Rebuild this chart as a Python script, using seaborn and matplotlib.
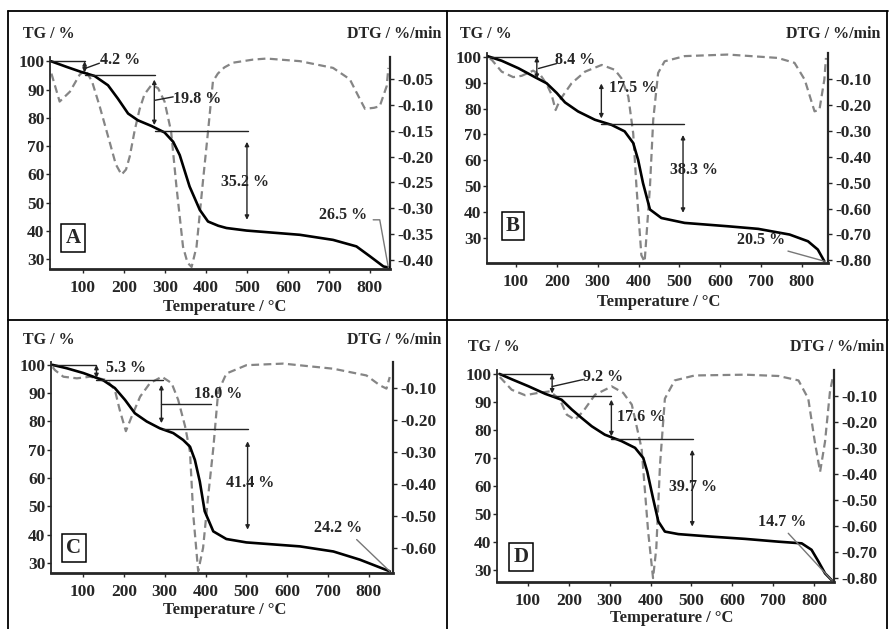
import matplotlib
matplotlib.use('Agg')
import matplotlib.pyplot as plt
import seaborn as sns
from matplotlib.ticker import FuncFormatter

# ---- Panel A ----
temp_tg_a = [22, 60, 96, 128, 161, 185, 210, 234, 267, 299, 320, 336, 360, 385, 405, 430, 450, 499, 629, 710, 767,
             800, 833, 849]
tg_a = [100.0, 98.0, 96.2, 94.8, 91.5, 86.8, 81.5, 79.1, 77.1, 74.8, 71.5, 66.8, 55.7, 47.4, 43.3, 41.8, 41.0, 40.1,
        38.6, 36.8, 34.5, 31.0, 27.4, 26.9]
temp_dtg_a = [23, 43, 68, 92, 106, 122, 141, 165, 180, 194, 205, 214, 226, 238, 250, 267, 283, 299, 315, 328, 344, 355,
              365, 377, 393, 405, 417, 429, 445, 466, 515, 548, 629, 710, 751, 776, 788, 810, 824, 841, 845]
dtg_a = [-0.040, -0.094, -0.075, -0.042, -0.033, -0.055, -0.104, -0.172, -0.215, -0.235, -0.225, -0.200, -0.150,
         -0.109, -0.080, -0.062, -0.068, -0.094, -0.152, -0.258, -0.374, -0.405, -0.413, -0.374, -0.245, -0.152,
         -0.055, -0.040, -0.028, -0.019, -0.013, -0.011, -0.016, -0.029, -0.051, -0.090, -0.108, -0.106, -0.103,
         -0.064, -0.029]
steps_a = ['4.2 %', '19.8 %', '35.2 %', '26.5 %']

# ---- Panel B ----
temp_tg_b = [30, 65, 106, 146, 175, 200, 220, 252, 293, 334, 366, 387, 399, 411, 428, 456, 513, 619, 693, 770, 815,
             839, 855]
tg_b = [100.3, 98.5, 95.6, 92.2, 89.8, 86.0, 82.4, 78.9, 75.7, 73.7, 71.2, 66.7, 60.2, 51.2, 41.0, 37.7, 35.8, 34.5,
        33.5, 31.3, 28.7, 25.5, 21.0]
temp_dtg_b = [36, 41, 65, 93, 114, 142, 160, 175, 187, 197, 208, 236, 269, 310, 342, 358, 375, 387, 395, 407, 415, 428,
              436, 448, 464, 513, 619, 741, 782, 807, 831, 843, 855, 859]
dtg_b = [-0.022, -0.027, -0.072, -0.093, -0.088, -0.068, -0.085, -0.120, -0.160, -0.220, -0.180, -0.117, -0.072,
         -0.046, -0.065, -0.097, -0.168, -0.310, -0.516, -0.780, -0.805, -0.516, -0.258, -0.077, -0.032, -0.012,
         -0.006, -0.019, -0.038, -0.103, -0.225, -0.219, -0.103, -0.019]
steps_b = ['8.4 %', '17.5 %', '38.3 %', '20.5 %']

# ---- Panel C ----
temp_tg_c = [25, 60, 101, 150, 178, 203, 227, 256, 288, 321, 345, 362, 374, 386, 398, 419, 451, 500, 631, 713, 778, 851]
tg_c = [100.0, 98.8, 97.1, 94.5, 91.8, 87.6, 82.9, 80.0, 77.6, 75.9, 73.5, 71.1, 66.4, 58.8, 48.3, 41.2, 38.5, 37.3,
        35.9, 34.1, 31.2, 27.1]
temp_dtg_c = [26, 31, 52, 85, 117, 158, 178, 190, 205, 219, 240, 264, 293, 317, 333, 350, 362, 370, 382, 394, 406, 419,
              431, 451, 500, 590, 713, 794, 827, 843, 851]
dtg_c = [-0.035, -0.044, -0.065, -0.070, -0.065, -0.075, -0.106, -0.169, -0.235, -0.190, -0.127, -0.085, -0.065,
         -0.085, -0.137, -0.220, -0.300, -0.496, -0.672, -0.600, -0.444, -0.289, -0.112, -0.055, -0.029, -0.024,
         -0.040, -0.061, -0.092, -0.102, -0.066]
steps_c = ['5.3 %', '18.0 %', '41.4 %', '24.2 %']

# ---- Panel D ----
temp_tg_d = [30, 60, 101, 142, 182, 207, 231, 256, 288, 329, 362, 382, 392, 406, 419, 435, 468, 549, 631, 713, 770,
             794, 811, 827, 843]
tg_d = [100.0, 98.1, 95.6, 92.9, 90.8, 87.3, 84.3, 81.3, 78.3, 76.0, 73.6, 70.0, 65.0, 55.6, 47.3, 43.7, 42.8, 41.9,
        41.1, 40.1, 39.5, 37.2, 33.0, 28.8, 26.4]
temp_dtg_d = [31, 60, 93, 125, 154, 178, 195, 215, 235, 264, 305, 333, 354, 378, 394, 406, 414, 423, 435, 459, 508, 631,
              713, 762, 786, 802, 815, 827, 839, 847]
dtg_d = [-0.027, -0.076, -0.097, -0.088, -0.082, -0.114, -0.172, -0.191, -0.159, -0.095, -0.063, -0.088, -0.133,
         -0.302, -0.621, -0.800, -0.685, -0.366, -0.110, -0.040, -0.021, -0.018, -0.023, -0.040, -0.110, -0.276,
         -0.391, -0.276, -0.085, -0.021]
steps_d = ['9.2 %', '17.6 %', '39.7 %', '14.7 %']

tg_ticks = list(range(30, 101, 10))
temp_ticks = list(range(100, 801, 100))

sns.set_theme(style='ticks')
plt.rcParams['font.family'] = ['Liberation Serif', 'DejaVu Serif']
plt.rcParams['font.weight'] = 'bold'
plt.rcParams['axes.labelweight'] = 'bold'

W, H = 889, 629
fig = plt.figure(figsize=(W / 100, H / 100), dpi=100)


def fx(x, y):
    return x / W, 1 - y / H


def rect(left, top, right, bottom):
    return [left / W, 1 - bottom / H, (right - left) / W, (bottom - top) / H]


def fig_line(xs, ys):
    fig.add_artist(plt.Line2D([x / W for x in xs], [1 - y / H for y in ys],
                              transform=fig.transFigure, color='black', lw=1.3))


# panel frames
fig_line([8, 888], [11, 11])
fig_line([8, 8], [11, 629])
fig_line([447, 447], [11, 629])
fig_line([8, 888], [320, 320])
fig_line([887, 887], [11, 629])

fmt = FuncFormatter(lambda v, p: f'{v:.2f}')


def vline_arrow(ax, x, y0, y1):
    ax.annotate('', xy=(x, y1), xytext=(x, y0),
                arrowprops=dict(arrowstyle='<|-|>', color='#222222', lw=1.0, mutation_scale=6,
                                shrinkA=0, shrinkB=0))


def draw_panel(r, xlim, ylim, dlim, dticks, t_tg, tg, t_dtg, dtg):
    ax = fig.add_axes(r)
    ax2 = ax.twinx()
    sns.lineplot(x=t_dtg, y=dtg, ax=ax2, color='#858585', lw=1.6, linestyle=(0, (3.5, 2)))
    sns.lineplot(x=t_tg, y=tg, ax=ax, color='black', lw=1.9)
    ax.set_zorder(ax2.get_zorder() + 1)
    ax.patch.set_visible(False)
    ax.set_xlim(*xlim)
    ax.set_ylim(*ylim)
    ax2.set_ylim(*dlim)
    ax.set_xticks(temp_ticks)
    ax.set_yticks(tg_ticks)
    ax2.set_yticks(dticks)
    ax2.yaxis.set_major_formatter(fmt)
    for a in (ax, ax2):
        a.spines['top'].set_visible(False)
        a.set_xlabel('')
        a.set_ylabel('')
    ax.spines['right'].set_visible(False)
    ax2.spines['left'].set_visible(False)
    ax2.spines['bottom'].set_visible(False)
    ax.spines['bottom'].set_linewidth(2.0)
    ax.spines['left'].set_linewidth(1.3)
    ax2.spines['right'].set_linewidth(1.6)
    ax.tick_params(axis='y', labelsize=12.5, length=3, width=1, pad=1)
    ax.tick_params(axis='x', labelsize=12.5, length=3, width=1, pad=5)
    ax2.tick_params(axis='y', labelsize=12.5, length=3, width=1, pad=2)
    return ax


def letter(ax, s, x, y):
    ax.text(x, y, s, transform=ax.transAxes, fontsize=15, ha='center', va='center',
            bbox=dict(boxstyle='square,pad=0.2', fc='white', ec='black', lw=1.1), zorder=10)


def label(ax, s, x, y):
    ax.text(x, y, s, fontsize=11.5, ha='center', va='center', zorder=10, clip_on=False)


def hl(ax, x0, x1, y):
    ax.plot([x0, x1], [y, y], color='#222222', lw=1.0)


def seg(ax, xs, ys, c='#222222'):
    ax.plot(xs, ys, color=c, lw=1.0)


def axis_texts(tg_xy, dtg_xy, temp_xy):
    fig.text(*fx(*tg_xy), 'TG / %', fontsize=11.5, ha='left', va='center')
    fig.text(*fx(*dtg_xy), 'DTG / %/min', fontsize=11.5, ha='right', va='center')
    fig.text(*fx(*temp_xy), 'Temperature / °C', fontsize=12, ha='center', va='center')


# ---- A ----
ax = draw_panel(rect(50, 57, 390, 269), (19.5, 849), (26.5, 101.5), (-0.417, -0.008),
                [-0.05, -0.10, -0.15, -0.20, -0.25, -0.30, -0.35, -0.40],
                temp_tg_a, tg_a, temp_dtg_a, dtg_a)
hl(ax, 22, 104, 100)
hl(ax, 104, 276, 95.0)
hl(ax, 276, 503, 75.3)
vline_arrow(ax, 104, 100, 96)
vline_arrow(ax, 274, 93.5, 77.4)
vline_arrow(ax, 500, 71.5, 43.9)
seg(ax, [106, 140], [97.5, 99.3])
seg(ax, [276, 320], [86.2, 87.4])
seg(ax, [808, 824, 845], [43.9, 43.9, 27.0], '#777777')
label(ax, steps_a[0], 191, 100.5)
label(ax, steps_a[1], 378, 86.8)
label(ax, steps_a[2], 495, 57.4)
label(ax, steps_a[3], 735, 45.7)
letter(ax, 'A', 0.068, 0.146)
axis_texts((23, 34), (441, 34), (225, 307))

# ---- B ----
ax = draw_panel(rect(487, 53, 828, 263), (29, 864), (20.3, 101.5), (-0.81, 0.0),
                [-0.10, -0.20, -0.30, -0.40, -0.50, -0.60, -0.70, -0.80],
                temp_tg_b, tg_b, temp_dtg_b, dtg_b)
hl(ax, 30, 151, 100)
hl(ax, 309, 512, 74)
vline_arrow(ax, 151, 100, 91.5)
vline_arrow(ax, 309, 89.7, 76.2)
vline_arrow(ax, 509, 69.8, 39.7)
seg(ax, [155, 199], [95.5, 97.4])
seg(ax, [766, 855], [24.9, 21.0], '#777777')
label(ax, steps_b[0], 244, 98.7)
label(ax, steps_b[1], 388, 87.8)
label(ax, steps_b[2], 535, 56.3)
label(ax, steps_b[3], 700, 29.1)
letter(ax, 'B', 0.076, 0.176)
axis_texts((460, 34), (880, 34), (659, 302))

# ---- C ----
ax = draw_panel(rect(51, 362, 393, 573), (21.7, 859), (26.5, 101), (-0.678, -0.019),
                [-0.10, -0.20, -0.30, -0.40, -0.50, -0.60],
                temp_tg_c, tg_c, temp_dtg_c, dtg_c)
hl(ax, 25, 133, 100)
hl(ax, 133, 296, 94.7)
hl(ax, 296, 504, 77.3)
vline_arrow(ax, 133, 100, 95.3)
vline_arrow(ax, 292, 92.9, 79.4)
vline_arrow(ax, 503, 73, 41.8)
seg(ax, [292, 414], [86.1, 86.1])
seg(ax, [770, 851], [38.3, 27.1], '#777777')
label(ax, steps_c[0], 205, 98.8)
label(ax, steps_c[1], 431, 89.7)
label(ax, steps_c[2], 508, 58.2)
label(ax, steps_c[3], 725, 42.4)
letter(ax, 'C', 0.067, 0.118)
axis_texts((23, 340), (441, 340), (225, 610))

# ---- D ----
ax = draw_panel(rect(497, 370, 834, 582), (24, 849), (25.7, 101.4), (-0.815, 0.0),
                [-0.10, -0.20, -0.30, -0.40, -0.50, -0.60, -0.70, -0.80],
                temp_tg_d, tg_d, temp_dtg_d, dtg_d)
hl(ax, 30, 159, 100)
hl(ax, 159, 304, 92)
hl(ax, 304, 504, 76.7)
vline_arrow(ax, 159, 100, 93)
vline_arrow(ax, 304, 90.8, 77.7)
vline_arrow(ax, 502, 72.9, 45.5)
seg(ax, [159, 235], [95.5, 98.0])
seg(ax, [737, 843], [43.1, 26.4], '#777777')
label(ax, steps_d[0], 284, 98.8)
label(ax, steps_d[1], 378, 84.5)
label(ax, steps_d[2], 504, 59.5)
label(ax, steps_d[3], 721, 47.0)
letter(ax, 'D', 0.071, 0.118)
axis_texts((468, 347), (884, 347), (672, 618))

fig.savefig('out.png', dpi=100)
